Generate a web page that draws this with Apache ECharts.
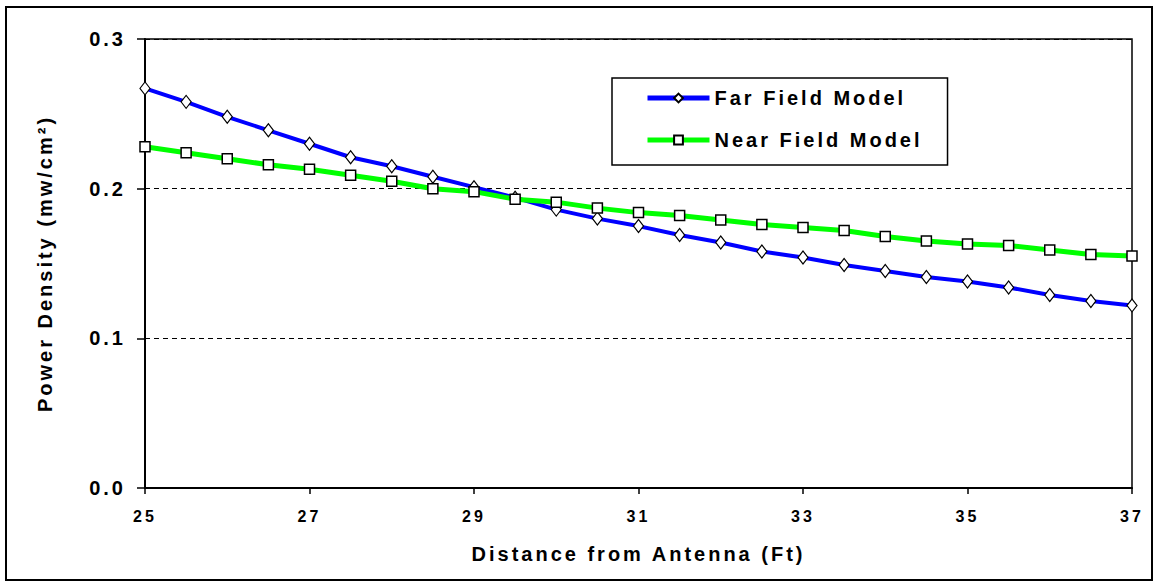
<!DOCTYPE html>
<html>
<head>
<meta charset="UTF-8">
<title>Power Density</title>
<script src="https://cdn.jsdelivr.net/npm/echarts@6/dist/echarts.min.js"></script>
<style>
  html, body { margin: 0; padding: 0; background: #fff; }
  /* the original has widely spaced lettering */
  #main text { letter-spacing: 3px; }
</style>
</head>
<body>
<div id="main" style="width: 1154px; height: 582px;"></div>
<script type="text/javascript">
// distance from antenna (ft)
var distances = [25, 25.5, 26, 26.5, 27, 27.5, 28, 28.5, 29, 29.5, 30, 30.5, 31,
  31.5, 32, 32.5, 33, 33.5, 34, 34.5, 35, 35.5, 36, 36.5, 37];
// power density (mw/cm2)
var farField = [0.267, 0.258, 0.248, 0.239, 0.230, 0.221, 0.215, 0.208, 0.201, 0.194,
  0.186, 0.180, 0.175, 0.169, 0.164, 0.158, 0.154, 0.149, 0.145, 0.141,
  0.138, 0.134, 0.129, 0.125, 0.122];
var nearField = [0.228, 0.224, 0.220, 0.216, 0.213, 0.209, 0.205, 0.200, 0.198, 0.193,
  0.191, 0.187, 0.184, 0.182, 0.179, 0.176, 0.174, 0.172, 0.168, 0.165,
  0.163, 0.162, 0.159, 0.156, 0.155];
var seriesNames = ['Far Field Model', 'Near Field Model'];

function pairs(ys) {
  return distances.map(function (x, i) { return [x, ys[i]]; });
}

var font = 'Liberation Sans, Arial, sans-serif';
var myChart = echarts.init(document.getElementById('main'), null, { renderer: 'svg' });

var option = {
  backgroundColor: '#fff',
  animation: false,
  graphic: [{
    type: 'rect',
    shape: { x: 6, y: 7, width: 1146, height: 573 },
    style: { fill: 'none', stroke: '#000', lineWidth: 2 },
    z: -1
  }],
  grid: {
    left: 145, right: 22, top: 39, bottom: 94,
    show: true,
    borderColor: '#000',
    borderWidth: 1.5
  },
  legend: {
    data: [
      { name: seriesNames[0], lineStyle: { width: 5 } },
      { name: seriesNames[1], lineStyle: { width: 5 } }
    ],
    orient: 'vertical',
    left: 612,
    top: 78,
    padding: [10, 73, 15, 33],
    itemWidth: 62,
    itemHeight: 11,
    itemGap: 22,
    borderColor: '#000',
    borderWidth: 1.5,
    textStyle: { fontFamily: font, fontWeight: 'bold', fontSize: 20, color: '#000' }
  },
  xAxis: {
    type: 'value',
    min: 25, max: 37, interval: 2,
    name: 'Distance from Antenna (Ft)',
    nameLocation: 'middle',
    nameGap: 56,
    nameTextStyle: { fontFamily: font, fontWeight: 'bold', fontSize: 20, color: '#000' },
    axisLine: { lineStyle: { color: '#000', width: 2 } },
    axisTick: { length: 6, lineStyle: { color: '#000', width: 1.5 } },
    axisLabel: { margin: 20, fontFamily: font, fontWeight: 'bold', fontSize: 16, color: '#000' },
    splitLine: { show: false }
  },
  yAxis: {
    type: 'value',
    min: 0, max: 0.3, interval: 0.1,
    name: 'Power Density (mw/cm²)',
    nameLocation: 'middle',
    nameGap: 90,
    nameRotate: 90,
    nameTextStyle: { fontFamily: font, fontWeight: 'bold', fontSize: 20, color: '#000' },
    axisLine: { show: true, lineStyle: { color: '#000', width: 2 } },
    axisTick: { show: true, length: 8, lineStyle: { color: '#000', width: 1.5 } },
    axisLabel: {
      margin: 19,
      fontFamily: font, fontWeight: 'bold', fontSize: 20, color: '#000',
      formatter: function (v) { return v.toFixed(1); }
    },
    splitLine: {
      show: true,
      lineStyle: { color: '#000', width: 1, type: [5, 4] }
    }
  },
  series: [{
    name: seriesNames[0],
    type: 'line',
    data: pairs(farField),
    symbol: 'diamond',
    symbolSize: [10, 13],
    lineStyle: { color: '#0000ff', width: 4 },
    itemStyle: { color: '#fff', borderColor: '#000', borderWidth: 1.2 }
  }, {
    name: seriesNames[1],
    type: 'line',
    data: pairs(nearField),
    symbol: 'rect',
    symbolSize: 10,
    lineStyle: { color: '#00ff00', width: 5 },
    itemStyle: { color: '#fff', borderColor: '#000', borderWidth: 1.5 }
  }]
};

myChart.setOption(option);
</script>
</body>
</html>
